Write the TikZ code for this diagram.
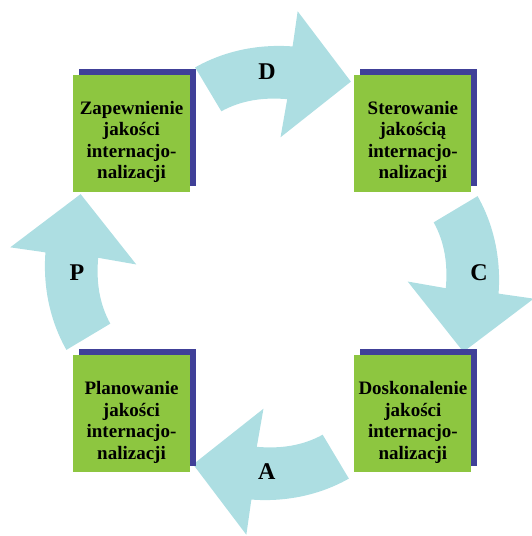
\documentclass[tikz,border=0pt]{standalone}
\usepackage{fontspec}
\setmainfont{Liberation Serif}
\usetikzlibrary{positioning,shadows}
\definecolor{stagegreen}{RGB}{141,198,64}
\definecolor{stagenavy}{RGB}{64,64,152}
\definecolor{cyclecyan}{RGB}{173,222,226}
\newcommand{\stagetop}{\rule{0pt}{30pt}}
\tikzset{
  stage/.style={fill=stagegreen, minimum size=117pt, inner sep=0pt, align=center,
    font=\fontsize{19}{21.5}\selectfont\bfseries,
    drop shadow={shadow xshift=6pt, shadow yshift=6pt, fill=stagenavy, opacity=1}},
  cyclearrow/.style={fill=cyclecyan},
  phase/.style={font=\fontsize{24}{24}\selectfont\bfseries}
}

\begin{document}
\begin{tikzpicture}[x=1pt,y=1pt]
        \useasboundingbox (-272,-263) rectangle (259,273);
        \foreach \a/\lab/\t/\r in {0/D/91.4/201,-90/C/0/207,-180/A/268.5/199,90/P/180/195}{
            \fill[cyclearrow] (\a+110.5:219.5)
                .. controls +(\a+29.5:34) and +(\a+175.7:34) .. (\a+84.8:227.5)
                -- (\a+84.4:263) -- (\a+67.6:207) -- (\a+86.4:136) -- (\a+85:174.5)
                .. controls +(\a+175.2:23.6) and +(\a+28.5:23.6) .. (\a+107.4:169.5)
                -- cycle;
            \node[phase] (phase\lab) at (\t:\r) {\lab};
        }
        \node[stage] (zap) at (-140.5,139.5) {\stagetop Zapewnienie\\jakości\\internacjo-\\nalizacji};
        \node[stage, right=164pt of zap] (ster) {\stagetop Sterowanie\\jakością\\internacjo-\\nalizacji};
        \node[stage, below=163pt of zap] (plan) {\stagetop Planowanie\\jakości\\internacjo-\\nalizacji};
        \node[stage, below=163pt of ster] (dosk) {\stagetop Doskonalenie\\jakości\\internacjo-\\nalizacji};
    \end{tikzpicture}
\end{document}
